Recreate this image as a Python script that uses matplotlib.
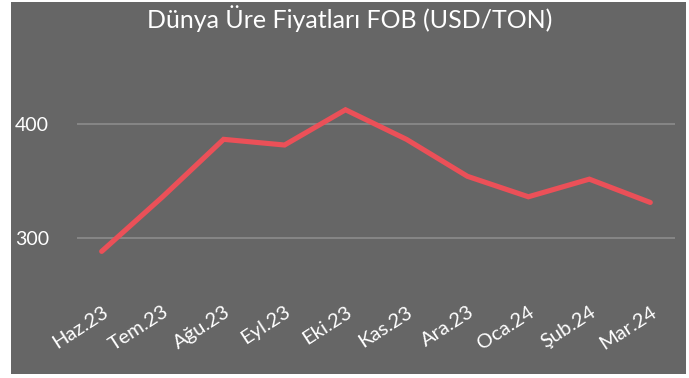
import matplotlib.pyplot as plt
from matplotlib.patches import Rectangle

# Monthly world urea prices, FOB (USD/ton)
months = ['Haz.23', 'Tem.23', 'Ağu.23', 'Eyl.23', 'Eki.23',
          'Kas.23', 'Ara.23', 'Oca.24', 'Şub.24', 'Mar.24']
prices = [288, 336, 386.5, 381.5, 412.5, 386.5, 354, 336, 351.5, 331]
yticks = [300, 400]

bg = '#666666'
plt.rcParams['font.family'] = ['Lato', 'DejaVu Sans']

fig = plt.figure(figsize=(6.89, 3.78), dpi=100, facecolor='white')
# gray chart panel behind everything
panel = Rectangle((11 / 689, 4 / 378), 675 / 689, 372 / 378,
                  transform=fig.transFigure, facecolor=bg,
                  edgecolor='none', zorder=-10)
fig.add_artist(panel)

ax = fig.add_axes([0.1113, 0.2206, 0.8688, 0.6019])
ax.set_zorder(1)
ax.set_facecolor(bg)

x = list(range(len(months)))
ax.plot(x, prices, color='#EB5058', linewidth=3.7, solid_capstyle='round',
        solid_joinstyle='miter', zorder=3)

ax.set_xlim(-0.41, len(months) - 1 + 0.41)
ax.set_ylim(250, 450)
ax.set_yticks(yticks)
ax.grid(axis='y', color='#8f8f8f', linewidth=1.1)
ax.set_axisbelow(True)
for s in ax.spines.values():
    s.set_visible(False)

ax.set_xticks(x)
ax.set_xticklabels(months, rotation=33, ha='right', va='top',
                   rotation_mode='anchor', color='white', fontsize=14.5)
ax.tick_params(axis='y', length=0, labelsize=14, colors='white', pad=20)
ax.tick_params(axis='x', length=0, colors='white', pad=6)

fig.text(0.507, 0.925, 'Dünya Üre Fiyatları FOB (USD/TON)', ha='center',
         va='baseline', color='white', fontsize=18)

fig.savefig('out.png', dpi=100, facecolor='white')
